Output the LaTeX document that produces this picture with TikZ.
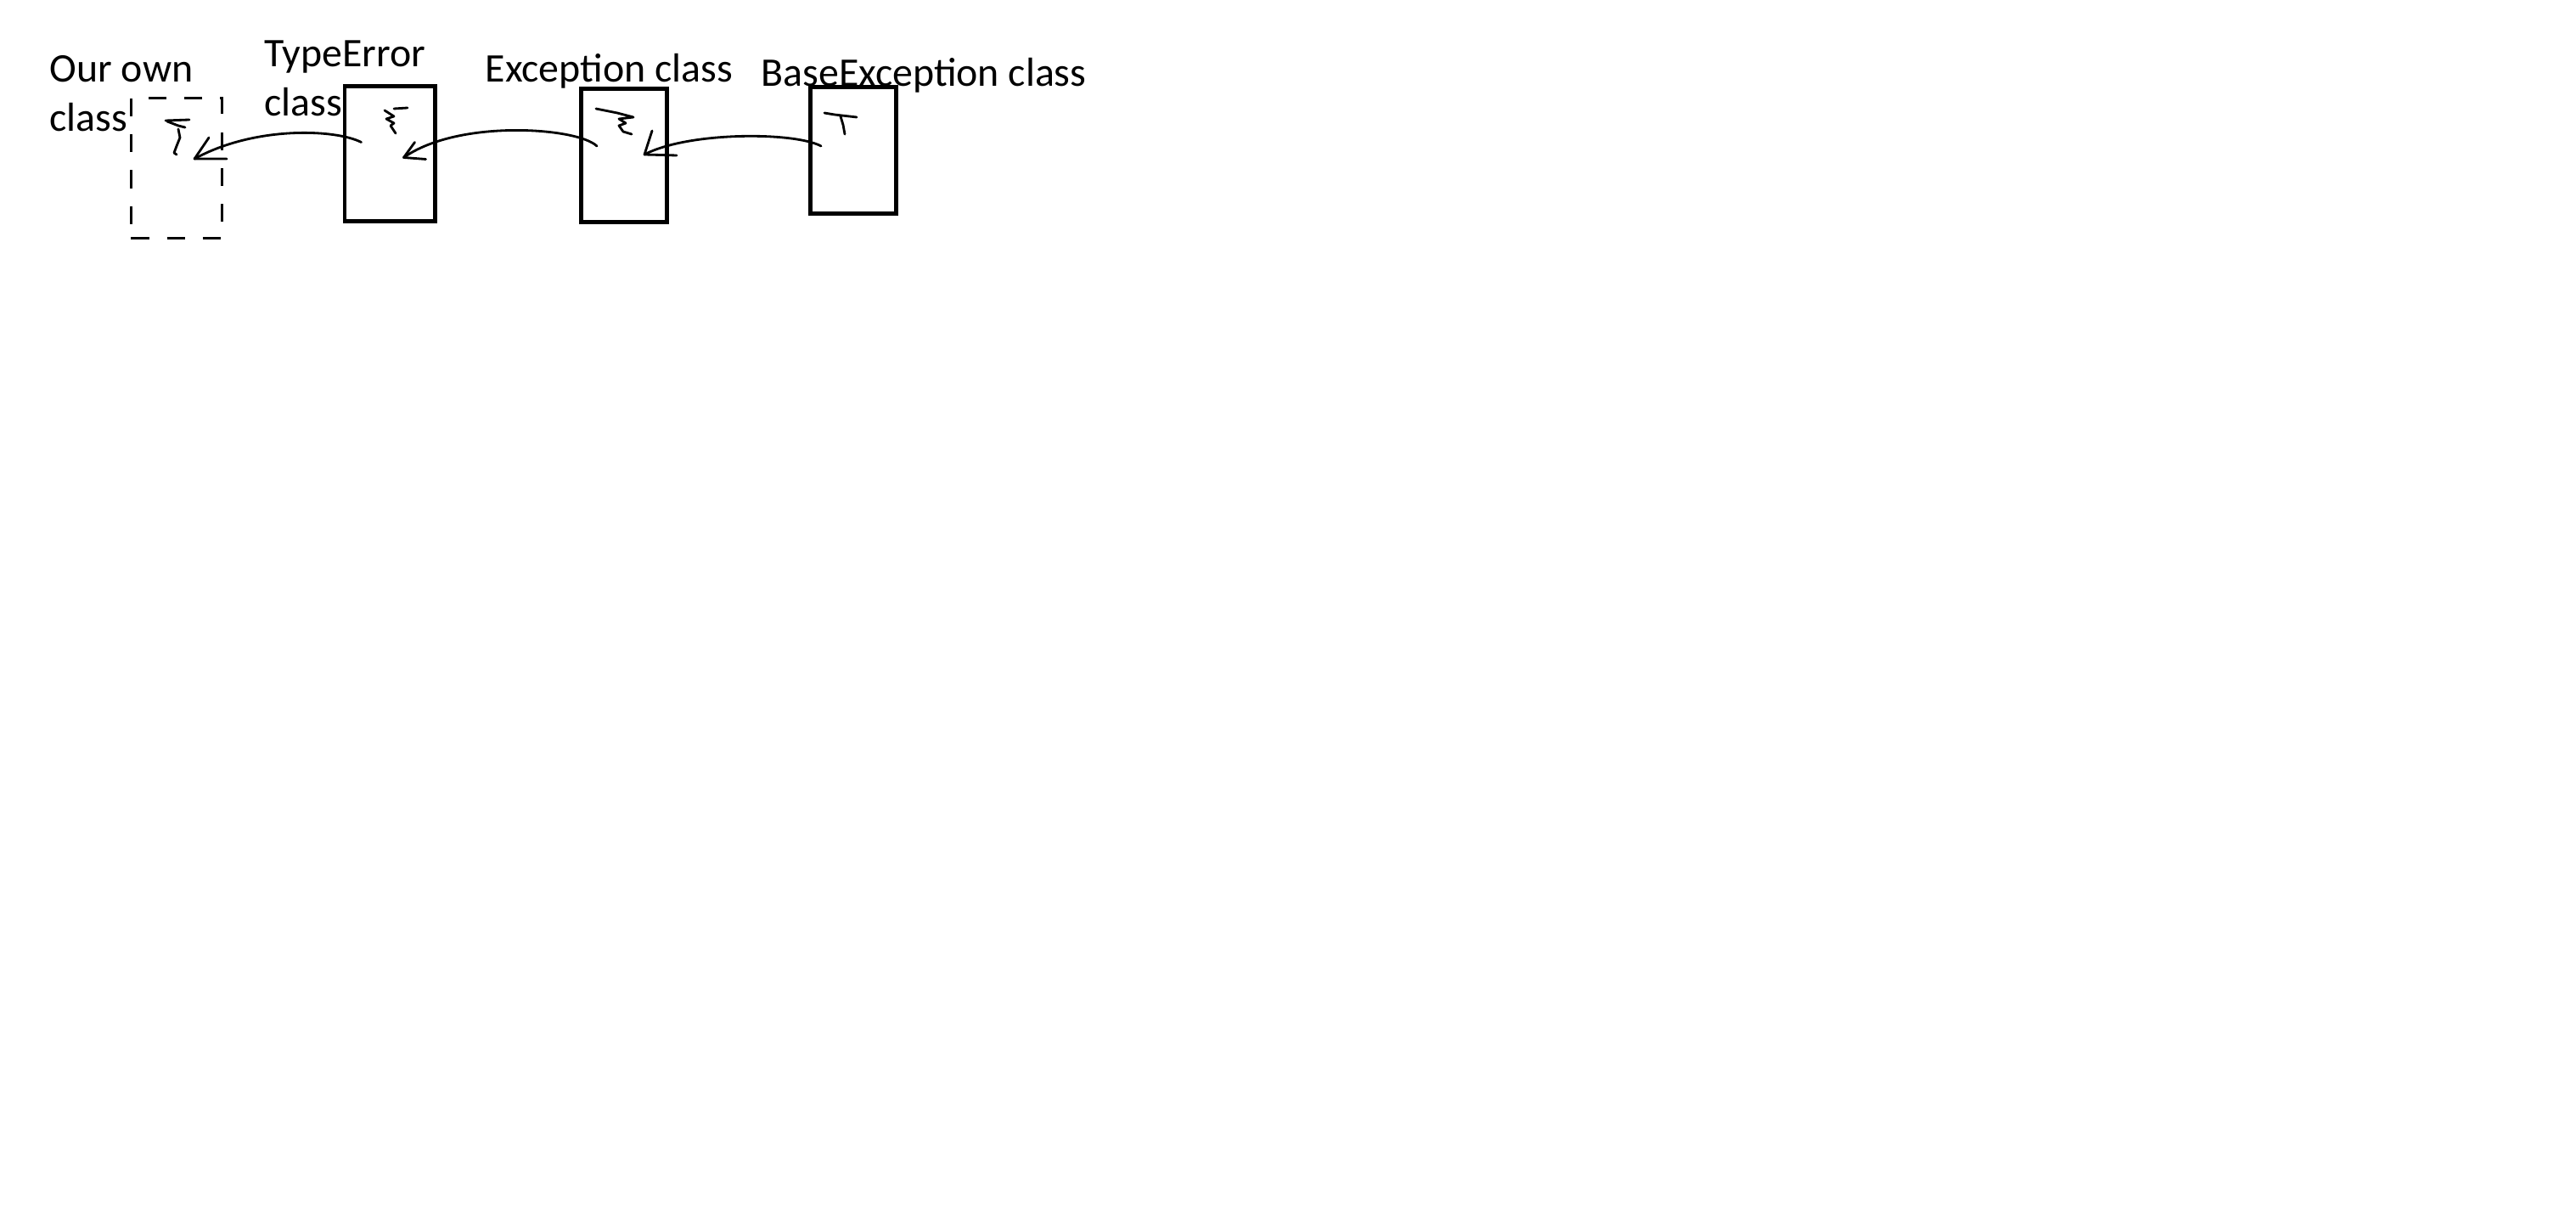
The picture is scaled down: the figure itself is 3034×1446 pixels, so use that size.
\documentclass[tikz,border=0pt]{standalone}
\usepackage{fontspec}
\setmainfont{Carlito}
\usepackage{tikz}
\usetikzlibrary{calc}
\tikzset{
  classbox/.style={
    rectangle, draw, line width=1.4pt, inner sep=0pt
  },
  ownbox/.style={
    rectangle, draw, line width=0.8pt, inner sep=0pt,
    dash pattern=on 6pt off 6pt
  },
  classname/.style={
    anchor=base west, inner sep=0pt, align=left,
    font=\fontsize{13.6}{16.5}\selectfont
  },
  link/.style={line width=0.8pt, line cap=round},
  head/.style={line width=0.8pt, line cap=round},
  scribble/.style={line width=0.8pt, line cap=round, line join=round},
}

\begin{document}
\begin{tikzpicture}[x=0.01cm, y=-0.01cm]
  \useasboundingbox (0,0) rectangle (3034,1446);

  % boxes
  \node (own)     [ownbox,   minimum width=1.07cm, minimum height=1.65cm] at (208,198)   {};
  \node (typeerr) [classbox, minimum width=1.06cm, minimum height=1.58cm] at (459,181)   {};
  \node (exc)     [classbox, minimum width=1.01cm, minimum height=1.57cm] at (735,183)   {};
  \node (baseexc) [classbox, minimum width=1.01cm, minimum height=1.49cm] at (1005,177)  {};

  % labels (base = last line)
  \node (ownlbl)     [classname] at (58,155)  {Our own\\class};
  \node (typeerrlbl) [classname] at (311,137) {TypeError\\class};
  \node (exclbl)     [classname] at (571,97)  {Exception class};
  \node (baseexclbl) [classname] at (896,102) {BaseException class};

  % start and tip of each connector
  \coordinate (s1) at ($(typeerr.north west)+(22,68)$);
  \coordinate (t1) at ($(own.north west)+(76,73)$);
  \coordinate (s2) at ($(exc.north west)+(21,70)$);
  \coordinate (t2) at ($(typeerr.north west)+(72,86)$);
  \coordinate (s3) at ($(baseexc.north west)+(15,72)$);
  \coordinate (t3) at ($(exc.north west)+(77,80)$);

  \draw [link] (s1) .. controls (395,152) and (300,148) .. (t1);
  \draw [link] (s2) .. controls (680,150) and (540,140) .. (t2);
  \draw [link] (s3) .. controls (935,155) and (810,155) .. (t3);

  \draw [head] (t1) -- ++(38,0)  (t1) -- ++(17,-25);
  \draw [head] (t2) -- ++(26,2)  (t2) -- ++(13,-18);
  \draw [head] (t3) -- ++(38,1)  (t3) -- ++(9,-28);

  % marks inside the boxes
  \draw [scribble] (195,142) -- (223,141) (197,143) -- (210,148) -- (218,150)
                   (210,152) -- (212,162) -- (208,172) -- (205,180) -- (208,182);
  \draw [scribble] (464,128) -- (480,127) (453,130) -- (464,137) -- (455,140) -- (464,145) -- (460,148) -- (466,157);
  \draw [scribble] (702,128) -- (727,133) -- (746,138) -- (729,140) -- (737,145) -- (729,148) -- (734,155) -- (744,158);
  \draw [scribble] (971,133) -- (983,135) -- (1009,138) (990,137) -- (993,147) -- (995,158);
\end{tikzpicture}
\end{document}
